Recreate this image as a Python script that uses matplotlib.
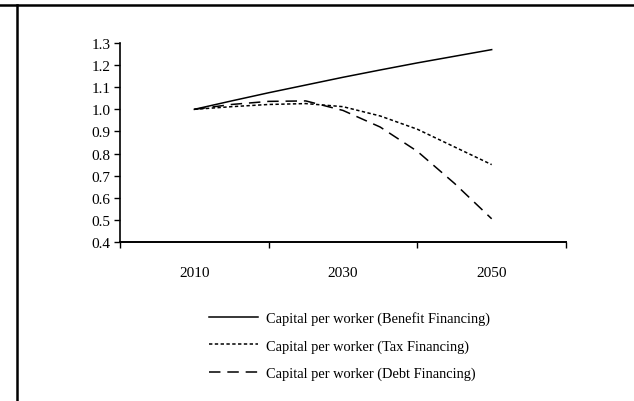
import numpy as np
import matplotlib
matplotlib.use('Agg')
import matplotlib.pyplot as plt
from matplotlib.lines import Line2D

# data
years = [2010, 2015, 2020, 2025, 2030, 2035, 2040, 2045, 2050]
benefit = [1.00, 1.038, 1.075, 1.11, 1.145, 1.178, 1.21, 1.24, 1.27]
tax = [1.00, 1.012, 1.022, 1.026, 1.012, 0.97, 0.91, 0.83, 0.75]
debt = [1.00, 1.022, 1.036, 1.038, 0.995, 0.92, 0.81, 0.665, 0.505]
year_labels = ['2010', '2030', '2050']
y_ticks = [0.4, 0.5, 0.6, 0.7, 0.8, 0.9, 1.0, 1.1, 1.2, 1.3]
legend_labels = ['Capital per worker (Benefit Financing)',
                 'Capital per worker (Tax Financing)',
                 'Capital per worker (Debt Financing)']

plt.rcParams['font.family'] = ['Liberation Serif', 'DejaVu Serif']

W, H = 634, 402
fig = plt.figure(figsize=(W / 100, H / 100), dpi=100)

# page frame lines and clipped caption above
fig.add_artist(Line2D([0, 1], [1 - 5.5 / H, 1 - 5.5 / H], color='black', lw=1.8))
fig.add_artist(Line2D([17 / W, 17 / W], [0, 1 - 5.5 / H], color='black', lw=1.8))
fig.text(45 / W, 1 + 3.5 / H, 'Changing Age Structure Financed by Reduced Pensions',
         fontsize=13, fontweight='bold', va='baseline', ha='left')

ax = fig.add_axes([120 / W, 1 - 243 / H, (566 - 120) / W, (243 - 44) / H])
styles = [dict(ls='-'), dict(ls=(0, (2.2, 1.6))), dict(ls=(0, (7.5, 4.5)))]
lines = []
for vals, st in zip([benefit, tax, debt], styles):
    l, = ax.plot(years, vals, color='black', lw=1.1, **st)
    lines.append(l)

ax.set_xlim(2000, 2060)
ax.set_ylim(0.4, 1.3)
ax.set_yticks(y_ticks)
ax.set_yticklabels([f'{v:.1f}' for v in y_ticks])
ax.set_xticks([2000, 2020, 2040, 2060])
ax.set_xticklabels([])
ax.set_xticks([int(s) for s in year_labels], minor=True)
ax.set_xticklabels(year_labels, minor=True)
ax.tick_params(axis='x', which='minor', length=0, pad=17, labelsize=11)
ax.tick_params(axis='x', which='major', length=4, width=1, direction='out')
ax.tick_params(axis='y', length=4, width=1, direction='out', labelsize=11, pad=3)
for s in ['top', 'right']:
    ax.spines[s].set_visible(False)
ax.spines['left'].set_linewidth(1.2)
ax.spines['bottom'].set_linewidth(1.4)

fig.legend(lines, legend_labels, loc='upper left',
           bbox_to_anchor=(196 / W, 1 - 299 / H), frameon=False,
           fontsize=10.4, handlelength=3.4, handletextpad=0.55,
           labelspacing=0.98)

fig.savefig('out.png', dpi=100)
